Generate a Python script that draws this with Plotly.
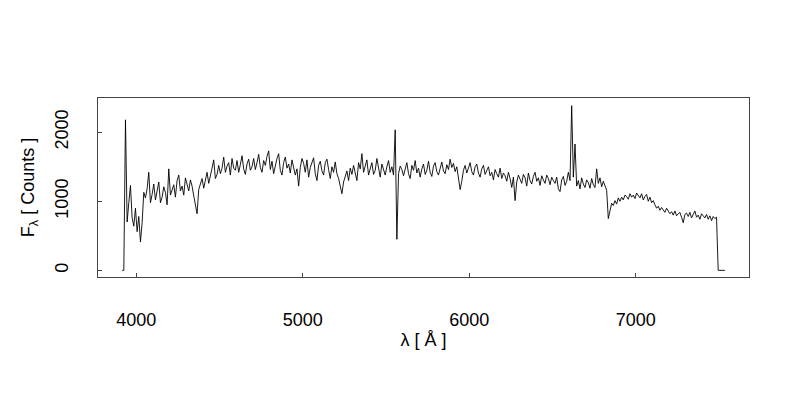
import plotly.graph_objects as go

wave_start = 3915
wave_step = 10
flux = [
    0, 0, 2180, 700, 980, 1230, 760, 640, 900, 560,
    780, 410, 690, 1130, 1050, 1180, 1420, 980, 1100, 1250,
    1020, 1150, 1280, 980, 1060, 1210, 1130, 950, 1470, 1090,
    1180, 1240, 1060, 1300, 1380, 1150, 1220, 1090, 1340, 1260,
    1150, 1310, 1220, 1080, 950, 820, 1170, 1250, 1330, 1190,
    1300, 1420, 1260, 1350, 1480, 1600, 1330, 1390, 1520, 1400,
    1480, 1640, 1420, 1510, 1560, 1380, 1620, 1480, 1450, 1590,
    1420, 1530, 1660, 1470, 1390, 1540, 1610, 1450, 1500, 1620,
    1460, 1560, 1680, 1490, 1420, 1590, 1520, 1650, 1730, 1460,
    1580, 1400, 1520, 1620, 1690, 1450, 1380, 1560, 1640, 1480,
    1540, 1410, 1600, 1510, 1380, 1470, 1220, 1490, 1620, 1550,
    1420, 1600, 1350, 1490, 1570, 1630, 1400, 1300, 1520, 1580,
    1440, 1380, 1560, 1610, 1460, 1330, 1500, 1420, 1570, 1400,
    1330, 1230, 1110, 1280, 1350, 1440, 1300, 1480, 1390, 1520,
    1410, 1300, 1560, 1470, 1690, 1420, 1510, 1600, 1380, 1470,
    1560, 1390, 1450, 1620, 1480, 1350, 1540, 1460, 1380, 1500,
    1590, 1420, 1500, 1380, 2035, 450, 1400, 1510, 1460, 1370,
    1490, 1560, 1400, 1330, 1520, 1450, 1590, 1410, 1480, 1350,
    1470, 1540, 1390, 1450, 1580, 1420, 1360, 1510, 1560, 1430,
    1380, 1500, 1570, 1440, 1400, 1530, 1460, 1610, 1490, 1550,
    1430, 1500, 1360, 1170, 1290, 1450, 1520, 1410, 1480, 1560,
    1430, 1380, 1500, 1540, 1410, 1350, 1470, 1520, 1390, 1450,
    1500, 1370, 1420, 1310, 1460, 1400, 1350, 1480, 1330, 1410,
    1370, 1290, 1420, 1330, 1200, 1350, 1010, 1280, 1380, 1320,
    1260, 1390, 1340, 1220, 1410, 1300, 1250, 1360, 1420, 1290,
    1340, 1230, 1370, 1310, 1260, 1380, 1330, 1240, 1350, 1300,
    1260, 1350, 1180, 1140, 1310, 1360, 1230, 1290, 1420, 1300,
    2385, 1350, 1830, 1220, 1300, 1180, 1340, 1250, 1200, 1310,
    1270, 1190, 1330, 1240, 1200, 1470, 1260, 1340, 1210, 1290,
    1230, 1160, 750, 880, 970, 940, 1010, 960, 1050, 1000,
    1060, 1020, 1090, 1070, 1030, 1110, 1060, 1090, 1040, 1120,
    1080, 1050, 1110, 1020, 1070, 1100, 1000, 1060, 980, 1010,
    950, 900, 930, 870, 910, 880, 840, 900, 860, 820,
    850, 800, 860, 790, 820, 840, 770, 690, 810, 830,
    780, 840, 760, 810, 860, 770, 800, 740, 820, 790,
    760, 810, 740, 790, 720, 780, 750, 770, 0, 0,
    0, 0, 0,
]
wavelength = [wave_start + wave_step * i for i in range(len(flux))]

x_ticks = [4000, 5000, 6000, 7000]
y_ticks = [0, 1000, 2000]

font = "Liberation Sans, Arial, sans-serif"

fig = go.Figure(
    go.Scatter(
        x=wavelength, y=flux, mode="lines",
        line=dict(color="black", width=0.9),
        showlegend=False, hoverinfo="skip",
    )
)

# page body adds an 8 px offset; margins compensate so the box sits at 98..749 x 98..277
fig.update_layout(
    width=800, height=400,
    margin=dict(l=90, r=59, t=90, b=131),
    paper_bgcolor="white", plot_bgcolor="white",
    font=dict(family=font, size=18, color="black"),
)

fig.update_xaxes(
    range=[3770, 7680], tickvals=x_ticks, ticktext=[str(v) for v in x_ticks],
    showgrid=False, zeroline=False, showline=True, linecolor="#444", linewidth=1,
    mirror=True, ticks="inside", ticklen=4, tickcolor="#444",
    ticklabelstandoff=26, tickfont=dict(size=18),
    title=dict(text="λ [ Å ]", standoff=4, font=dict(size=18)),
)
fig.update_yaxes(
    range=[-96, 2496], tickvals=y_ticks, ticktext=[str(v) for v in y_ticks],
    tickangle=-90,
    showgrid=False, zeroline=False, showline=True, linecolor="#444", linewidth=1,
    mirror=True, ticks="inside", ticklen=4, tickcolor="#444",
    ticklabelstandoff=22, tickfont=dict(size=18),
    title=dict(text="F<sub>λ</sub> [ Counts ]", standoff=12, font=dict(size=18)),
)

fig.write_html("out.html")
